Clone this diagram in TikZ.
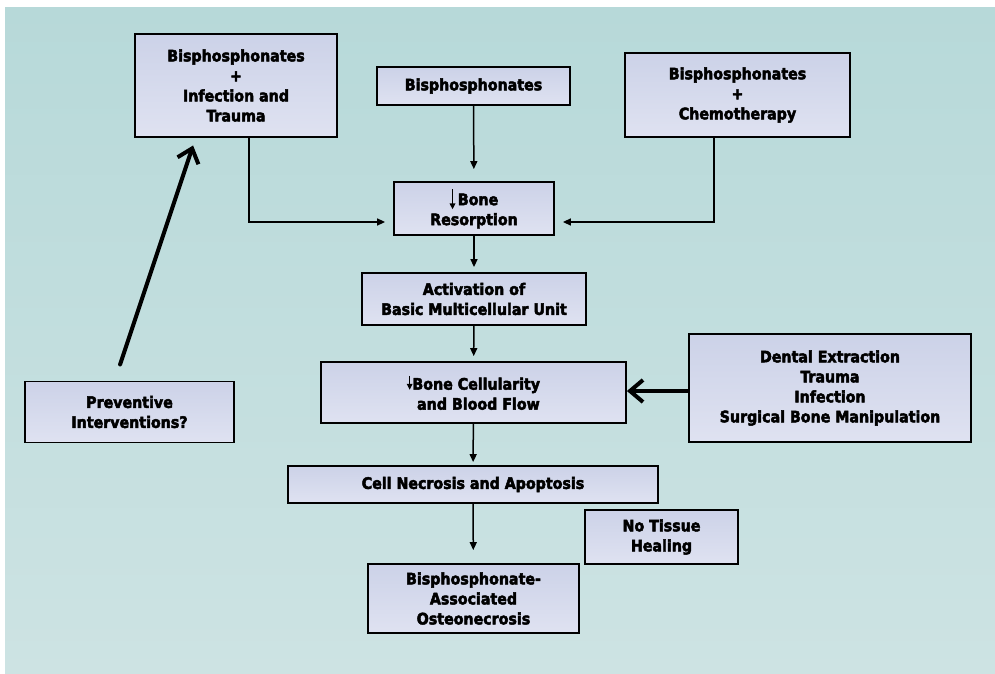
\documentclass[tikz,border=0pt]{standalone}
\usepackage{fontspec}
\setmainfont{DejaVu Sans Condensed}[BoldFeatures={FakeBold=3}]
\usetikzlibrary{arrows.meta,calc}
\definecolor{bgtop}{RGB}{183,217,217}
\definecolor{bgbot}{RGB}{205,227,227}
\definecolor{boxtop}{RGB}{204,210,232}
\definecolor{boxbot}{RGB}{223,226,241}
\tikzset{
  box/.style={draw=black, line width=1.8pt, top color=boxtop, bottom color=boxbot,
    inner sep=0pt, align=center, font=\fontsize{15.8}{20}\selectfont\bfseries},
  conn/.style={draw=black, line width=1.5pt, -{Triangle[length=8pt,width=7pt]}},
  heavyarrow/.style={draw=black, line width=4pt, line cap=round,
    -{Straight Barb[length=13pt,width=22pt,line width=4pt]}},
  dnarrow/.style={draw=black, line width=1.5pt, -{Triangle[length=6pt,width=5.5pt]}}
}
\newcommand{\dnlong}{\raisebox{-5pt}{\tikz[x=1pt,y=1pt]{\draw[dnarrow] (0,20) -- (0,0);}}}
\newcommand{\dnshort}{\raisebox{-1pt}{\tikz[x=1pt,y=1pt]{\draw[dnarrow] (0,14) -- (0,0);}}}
\begin{document}
\begin{tikzpicture}[x=1pt,y=-1pt]
\useasboundingbox (0,0) rectangle (995,674);
\fill[white] (0,0) rectangle (995,674);
\shade[top color=bgtop, bottom color=bgbot] (5,8) rectangle (995,674);

\node[box, minimum width=202pt, minimum height=103pt] (bi) at (236,85.5)
  {Bisphosphonates\\+\\Infection and\\Trauma};
\node[box, minimum width=193pt, minimum height=38pt] (bis) at (473.5,86)
  {Bisphosphonates};
\node[box, minimum width=225pt, minimum height=84pt] (bc) at (737.5,95)
  {Bisphosphonates\\+\\Chemotherapy};
\node[box, minimum width=160pt, minimum height=53pt] (res) at (474,208.5)
  {\dnlong\,Bone\\Resorption};
\node[box, minimum width=224pt, minimum height=52pt] (act) at (474,299)
  {Activation of\\Basic Multicellular Unit};
\node[box, minimum width=305pt, minimum height=61pt] (cel) at (473.5,392.5)
  {\dnshort Bone Cellularity\\\ \ and Blood Flow};
\node[box, minimum width=282pt, minimum height=108pt] (den) at (830,388)
  {Dental Extraction\\Trauma\\Infection\\Surgical Bone Manipulation};
\node[box, minimum width=370pt, minimum height=37pt] (nec) at (473,484.5)
  {Cell Necrosis and Apoptosis};
\node[box, minimum width=153pt, minimum height=54pt] (heal) at (661.5,537)
  {No Tissue\\Healing};
\node[box, minimum width=211pt, minimum height=69pt] (bao) at (473.5,598.5)
  {Bisphosphonate-\\Associated\\Osteonecrosis};
\node[box, minimum width=209pt, minimum height=61pt] (prev) at (129.5,412)
  {Preventive\\Interventions?};

\draw[conn, shorten >=12pt] (bis) -- (res);
\draw[conn, shorten >=8pt] ([xshift=13pt]bi.south) |- ([yshift=-13.5pt]res.west);
\draw[conn, shorten >=8pt] ([xshift=-23.5pt]bc.south) |- ([yshift=-13.5pt]res.east);
\draw[conn, shorten >=5pt] (res) -- (act);
\draw[conn, shorten >=5pt] (act) -- (cel);
\draw[conn, shorten >=3pt] (cel) -- (nec);
\draw[conn, shorten >=13pt] (nec) -- (bao);
\draw[heavyarrow, line cap=butt] (den.west |- 0,391) -- (cel.east |- 0,391);
\draw[heavyarrow, shorten <=17pt, shorten >=8pt] ([xshift=-14.8pt]prev.north) -- ([xshift=-40.4pt]bi.south);
\end{tikzpicture}
\end{document}
